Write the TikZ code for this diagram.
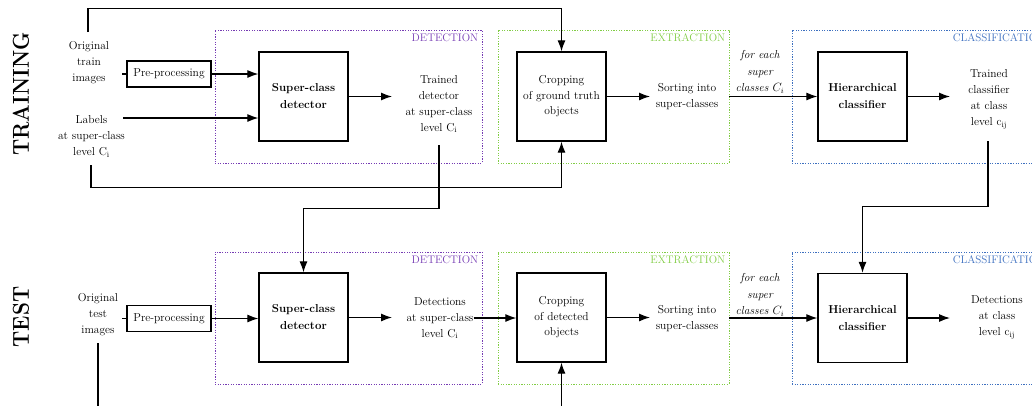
\documentclass[tikz,border=0pt]{standalone}
\usepackage{amsmath}
\usepackage{amssymb}
\usepackage{tikz}
\usetikzlibrary{arrows.meta}

\definecolor{detpurple}{RGB}{118,60,180}
\definecolor{extgreen}{RGB}{130,205,70}
\definecolor{clsblue}{RGB}{62,112,192}

\begin{document}
\begin{tikzpicture}[x=1pt,y=-1pt,
  font=\fontsize{11.5}{16}\selectfont,
  block/.style={draw,line width=1.3pt,minimum width=89,minimum height=89,align=center,inner sep=0pt,font=\fontsize{11.5}{15.5}\selectfont},
  boldblock/.style={block,font=\fontsize{11.5}{17}\selectfont\bfseries},
  prebox/.style={draw,line width=1.3pt,minimum width=84,minimum height=26,inner sep=0pt},
  txt/.style={align=center,inner sep=0pt},
  eachtxt/.style={txt,font=\fontsize{11.5}{16.5}\selectfont\itshape},
  stage/.style={draw,line width=0.9pt,dash pattern=on 1.2pt off 1.4pt,minimum height=133,inner sep=0pt},
  stagelabel/.style={anchor=north east,inner sep=4pt,font=\fontsize{11}{13}\selectfont},
  rowtitle/.style={rotate=90,inner sep=0pt,font=\fontsize{23}{23}\selectfont\bfseries},
  flow/.style={line width=1.2pt,-{Latex[length=11pt,width=8pt]}},
  link/.style={line width=1.2pt}]

\clip (0,0) rectangle (1032,405);

% Row titles
\node[rowtitle] (trainingtitle) at (21,94) {\scalebox{0.9}[1]{TRAINING}};
\node[rowtitle] (testtitle) at (21,317) {\scalebox{0.9}[1]{TEST}};

% Stage frames
\node[stage,draw=detpurple,minimum width=267] (detframe1) at (348.5,96.5) {};
\node[stage,draw=extgreen,minimum width=231] (extframe1) at (613.5,96.5) {};
\node[stage,draw=clsblue,minimum width=257] (clsframe1) at (920.5,96.5) {};
\node[stage,draw=detpurple,minimum width=267,minimum height=132] (detframe2) at (348.5,318) {};
\node[stage,draw=extgreen,minimum width=231,minimum height=132] (extframe2) at (613.5,318) {};
\node[stage,draw=clsblue,minimum width=257,minimum height=132] (clsframe2) at (920.5,318) {};

\node[stagelabel,text=detpurple] (detlabel1) at (detframe1.north east) {DETECTION};
\node[stagelabel,text=extgreen] (extlabel1) at (extframe1.north east) {EXTRACTION};
\node[stagelabel,text=clsblue] (clslabel1) at (clsframe1.north east) {CLASSIFICATION};
\node[stagelabel,text=detpurple] (detlabel2) at (detframe2.north east) {DETECTION};
\node[stagelabel,text=extgreen] (extlabel2) at (extframe2.north east) {EXTRACTION};
\node[stagelabel,text=clsblue] (clslabel2) at (clsframe2.north east) {CLASSIFICATION};

% Training row
\node[txt] (trainimg) at (89,62.5) {Original\\train\\images};
\node[prebox] (pre1) at (169,74) {Pre-processing};
\node[txt] (labels) at (91.5,136.5) {Labels\\at super-class\\level C$_\mathrm{i}$};
\node[boldblock] (det1) at (303.5,96.5) {Super-class\\detector};
\node[txt] (trdet) at (439,104) {Trained\\detector\\at super-class\\level C$_\mathrm{i}$};
\node[block] (crop1) at (561.5,96.5) {Cropping\\of ground truth\\objects};
\node[txt] (sort1) at (687,96.5) {Sorting into\\super-classes};
\node[eachtxt] (each1) at (760,72) {for each\\super\\classes $C_i$};
\node[boldblock] (cls1) at (862.5,96.5) {Hierarchical\\classifier};
\node[txt] (trcls) at (989,99.5) {Trained\\classifier\\at class\\level c$_\mathrm{ij}$};

% Test row
\node[txt] (testimg) at (98,315) {Original\\test\\images};
\node[prebox] (pre2) at (169,318.5) {Pre-processing};
\node[boldblock] (det2) at (303.5,317.5) {Super-class\\detector};
\node[txt] (dets2) at (440,318) {Detections\\at super-class\\level C$_\mathrm{i}$};
\node[block] (crop2) at (561.5,317.5) {Cropping\\of detected\\objects};
\node[txt] (sort2) at (687,319) {Sorting into\\super-classes};
\node[eachtxt] (each2) at (760,295) {for each\\super\\classes $C_i$};
\node[boldblock] (cls2) at (862.5,318) {Hierarchical\\classifier};
\node[txt] (dets3) at (997,317.5) {Detections\\at class\\level c$_\mathrm{ij}$};

% Free ends
\coordinate (trainup) at (88,32);
\coordinate (labtip) at (123,118);
\coordinate (labdown) at (91,165);
\coordinate (trdetin) at (392,96.5);
\coordinate (trdetout) at (439,145);
\coordinate (sort1in) at (650,96.5);
\coordinate (trclsin) at (950,96.5);
\coordinate (trclsout) at (988,141);
\coordinate (testdown) at (98,343);
\coordinate (testend) at (98,412);
\coordinate (dets2in) at (392,317.5);
\coordinate (crop2up) at (561.5,412);
\coordinate (sort2in) at (650,317.5);
\coordinate (dets3in) at (950,318);

% Training connectors
\draw[link] (pre1.west) -- ++(-4,0);
\draw[flow] (pre1.east) -- (pre1.east -| det1.west);
\draw[flow] (labtip) -- (labtip -| det1.west);
\draw[flow] (det1.east) -- (trdetin);
\draw[flow] (trainup) |- ([yshift=43pt]crop1.north) -- (crop1.north);
\draw[flow] (labdown) |- ([yshift=-46pt]crop1.south) -- (crop1.south);
\draw[flow] (crop1.east) -- (sort1in);
\draw[flow] (extframe1.east) -- (extframe1.east -| cls1.west);
\draw[flow] (cls1.east) -- (trclsin);

% Training to test
\draw[flow] (trdetout) |- ([yshift=64pt]det2.north) -- (det2.north);
\draw[flow] (trclsout) |- ([yshift=66pt]cls2.north) -- (cls2.north);

% Test connectors
\draw[link] (pre2.west) -- ++(-4,0);
\draw[link] (testdown) -- (testend);
\draw[flow] (pre2.east) -- (pre2.east -| det2.west);
\draw[flow] (det2.east) -- (dets2in);
\draw[flow] (dets2.east) -- (dets2.east -| crop2.west);
\draw[flow] (crop2up) -- (crop2.south);
\draw[flow] (crop2.east) -- (sort2in);
\draw[flow] (extframe2.east) -- (extframe2.east -| cls2.west);
\draw[flow] (cls2.east) -- (dets3in);

\end{tikzpicture}
\end{document}
